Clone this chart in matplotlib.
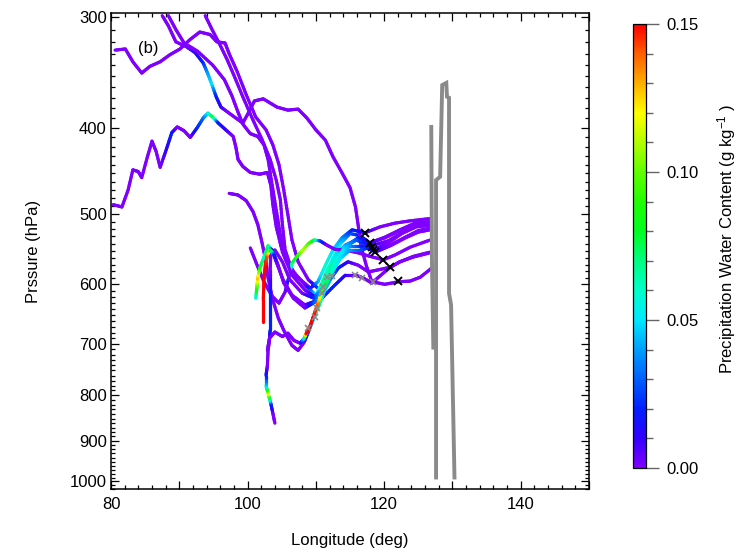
import numpy as np
import matplotlib
matplotlib.use("Agg")
import matplotlib.pyplot as plt
from matplotlib.collections import LineCollection
from matplotlib.colors import LinearSegmentedColormap, Normalize
from matplotlib.cm import ScalarMappable
from matplotlib.ticker import MultipleLocator, FixedLocator, NullFormatter, FuncFormatter

plt.rcParams['font.family'] = ['Liberation Sans', 'DejaVu Sans']
plt.rcParams['mathtext.fontset'] = 'custom'
plt.rcParams['mathtext.rm'] = 'Liberation Sans'
plt.rcParams['mathtext.it'] = 'Liberation Sans:italic'
plt.rcParams['font.size'] = 12

# ---------------- trajectories: longitude (deg), pressure (hPa), PWC (g/kg) ----------------
t1_lon = [80.6, 82.1, 83.2, 84.5, 85.7, 87.2, 88.6, 90.1, 91.6, 93.0, 94.5, 95.5, 96.7, 97.3, 98.5, 99.8,
          101.2, 102.7, 103.7, 104.6, 105.3, 105.9, 106.5, 107.4, 108.9, 110.6, 111.6, 112.5, 113.7,
          115.0, 116.5, 117.9, 120.1, 122.3, 124.5, 126.7]
t1_p = [327, 326, 337, 347, 341, 337, 331, 326, 318, 312, 314, 320, 321, 330, 346, 367,
        389, 402, 418, 440, 470, 501, 535, 566, 593, 609, 586, 561, 539,
        526, 529, 539, 531, 521, 512, 510]
t1_q = [0, 0, 0, 0, 0, 0, 0, 0, 0, 0, 0, 0, 0, 0, 0, 0,
        0, 0, 0, 0, 0, 0, 0, 0, 0, 0.03, 0.05, 0.06, 0.05,
        0.03, 0.02, 0.01, 0, 0, 0, 0]

t2_lon = [87.5, 88.4, 89.5, 91.0, 92.3, 93.5, 94.2, 94.8, 95.4, 96.1, 97.1, 98.3, 99.3, 100.1, 101.0,
          102.3, 104.3, 105.9, 107.4, 108.7, 110.0, 111.4, 112.5, 113.8, 115.0, 115.8, 116.2, 116.6,
          117.4, 118.2, 120.1, 122.1, 123.8, 125.3, 127.0]
t2_p = [299, 307, 320, 324, 329, 338, 348, 358, 369, 379, 384, 390, 395, 385, 373,
        371, 379, 382, 381, 390, 402, 413, 431, 449, 467, 491, 515, 543,
        572, 596, 600, 596, 595, 589, 575]
t2_q = [0, 0, 0, 0, 0.01, 0.02, 0.04, 0.05, 0.02, 0.01, 0, 0, 0, 0, 0,
        0, 0, 0, 0, 0, 0, 0, 0, 0, 0, 0, 0, 0,
        0, 0, 0, 0, 0, 0, 0]

t3_lon = [88.4, 89.5, 90.7, 92.7, 94.9, 96.6, 97.7, 98.6, 99.3, 100.4, 101.5, 102.4, 103.0, 103.6,
          104.2, 104.8, 105.6, 107.1, 109.2, 110.3, 111.4, 112.5, 113.8, 115.3, 117.2, 119.4,
          121.6, 123.8, 126.7]
t3_p = [299, 310, 321, 328, 340, 353, 368, 384, 396, 406, 409, 418, 434, 464,
        495, 528, 561, 587, 606, 596, 571, 549, 532, 521, 525, 517,
        512, 509, 506]
t3_q = [0, 0, 0, 0, 0, 0, 0, 0, 0, 0, 0, 0, 0, 0,
        0, 0, 0, 0, 0, 0.04, 0.06, 0.05, 0.04, 0.02, 0.01, 0,
        0, 0, 0]

t4_lon = [93.8, 94.8, 96.0, 97.0, 98.0, 99.3, 100.8, 102.1, 103.3, 104.2, 104.8, 105.1, 105.5,
          106.5, 108.4, 110.0, 110.9, 111.8, 113.0, 114.3, 115.9, 117.2, 118.4, 120.6, 122.6,
          124.7, 126.7]
t4_p = [299, 310, 323, 335, 349, 369, 392, 412, 434, 458, 482, 514, 549,
        578, 601, 617, 598, 575, 556, 542, 535, 536, 549, 539, 526,
        517, 515]
t4_q = [0, 0, 0, 0, 0, 0, 0, 0, 0, 0, 0, 0, 0,
        0, 0, 0.05, 0.07, 0.06, 0.05, 0.04, 0.03, 0.02, 0.01, 0, 0,
        0, 0]

t5_lon = [102.9, 103.2, 104.0, 105.1, 105.9, 106.8, 107.7, 108.3, 108.6, 109.2, 109.7, 110.3, 110.9,
          111.5, 112.4, 113.6, 115.0, 116.5, 117.7, 118.7, 120.9, 123.1, 125.0, 126.7]
t5_p = [712, 690, 679, 687, 681, 694, 699, 690, 681, 667, 650, 630, 612,
        598, 581, 561, 549, 549, 546, 552, 543, 532, 524, 521]
t5_q = [0, 0, 0, 0, 0, 0, 0, 0.05, 0.15, 0.15, 0.15, 0.14, 0.10,
        0.08, 0.06, 0.05, 0.04, 0.03, 0.02, 0.01, 0, 0, 0, 0]

t6_lon = [100.4, 101.4, 102.4, 103.6, 104.6, 105.5, 106.1, 106.5, 107.4, 108.1, 108.9, 109.7, 110.6,
          111.6, 112.8, 114.3, 116.2, 117.9, 119.9, 121.6, 123.8, 126.7]
t6_p = [546, 571, 596, 619, 630, 612, 586, 568, 556, 549, 540, 535, 536,
        542, 548, 549, 553, 558, 563, 556, 545, 535]
t6_q = [0, 0, 0, 0, 0, 0, 0.03, 0.07, 0.09, 0.11, 0.10, 0.08, 0.03,
        0, 0, 0, 0, 0, 0, 0, 0, 0]

t7_lon = [80.3, 81.6, 82.5, 83.2, 84.0, 84.5, 85.3, 86.0, 86.6, 87.2, 88.1, 88.9, 89.7, 90.7, 91.6,
          92.6, 93.5, 94.2, 94.9, 95.7, 96.8, 97.9, 98.3, 98.6, 99.3, 100.4, 101.8, 102.9, 103.4,
          103.7, 104.2, 105.1, 106.5, 108.4, 110.6, 112.8, 114.3, 115.8, 116.9, 118.2, 119.4,
          120.9, 122.3, 124.3, 126.7]
t7_p = [488, 491, 470, 446, 448, 455, 432, 414, 425, 443, 423, 405, 399, 403, 410,
        400, 390, 385, 389, 395, 402, 409, 421, 434, 442, 449, 451, 449, 464,
        488, 517, 552, 586, 609, 625, 601, 586, 586, 590, 598, 587,
        574, 566, 559, 553]
t7_q = [0, 0, 0, 0, 0, 0, 0, 0, 0, 0, 0.01, 0.02, 0, 0, 0,
        0.02, 0.03, 0.05, 0.08, 0.02, 0.01, 0, 0, 0, 0, 0, 0, 0, 0,
        0, 0, 0, 0, 0, 0.02, 0.02, 0.01, 0, 0, 0, 0,
        0, 0, 0, 0]

t8_lon = [97.3, 98.6, 99.8, 100.8, 101.5, 102.1, 102.6, 103.0, 103.7, 104.5, 105.3, 106.5, 107.4,
          108.3, 109.0, 109.7, 110.5, 111.2, 112.1, 113.3, 114.7, 116.2, 117.7, 119.1, 120.9,
          122.3, 124.3, 126.7]
t8_p = [474, 476, 483, 497, 514, 538, 561, 590, 625, 655, 676, 703, 712,
        697, 676, 655, 633, 612, 593, 575, 566, 571, 581, 578, 574,
        566, 558, 552]
t8_q = [0, 0, 0, 0, 0, 0, 0, 0, 0, 0, 0, 0, 0,
        0, 0.03, 0.05, 0.07, 0.05, 0.04, 0.02, 0.01, 0, 0, 0, 0,
        0, 0, 0]

t9_lon = [101.2, 101.4, 101.5, 101.8, 102.4, 103.0, 103.6, 104.2, 105.2, 106.5, 108.4, 110.3,
          111.8, 113.1, 114.6, 116.2, 117.8, 120.1, 122.3, 124.5, 126.7]
t9_p = [622, 601, 590, 575, 559, 543, 549, 566, 593, 617, 633, 625,
        593, 563, 542, 532, 539, 532, 522, 514, 511]
t9_q = [0.05, 0.10, 0.13, 0.09, 0.06, 0.08, 0.02, 0, 0, 0, 0, 0.03,
        0.05, 0.06, 0.04, 0.02, 0.01, 0, 0, 0, 0]

t10_lon = [102.3, 102.3, 102.4, 102.6, 102.9, 103.3, 103.9, 104.5, 105.3, 106.7, 108.4, 109.9,
           111.4, 112.7, 114.1, 115.9, 118.1, 120.6, 122.6, 124.7, 126.7]
t10_p = [662, 625, 593, 571, 556, 549, 556, 572, 598, 622, 638, 628,
         601, 571, 546, 535, 543, 536, 525, 516, 514]
t10_q = [0.15, 0.15, 0.15, 0.15, 0.14, 0.10, 0.02, 0, 0, 0, 0, 0.03,
         0.05, 0.06, 0.05, 0.03, 0.01, 0, 0, 0, 0]

t11_lon = [104.0, 103.7, 103.4, 103.0, 102.7, 102.7, 102.9, 103.0, 103.2, 103.3, 103.3, 103.3,
           103.3, 103.4, 104.0, 105.1, 106.2, 108.0, 109.7, 111.1, 112.2, 113.6, 115.0, 116.8,
           118.5, 120.9, 123.1, 125.0, 126.7]
t11_p = [860, 838, 817, 796, 780, 760, 741, 712, 694, 676, 642, 609,
         578, 556, 549, 566, 593, 614, 622, 604, 575, 555, 543, 543,
         550, 542, 531, 522, 519]
t11_q = [0, 0, 0.02, 0.12, 0.05, 0.02, 0, 0, 0, 0.02, 0.02, 0.02,
         0, 0, 0, 0, 0, 0, 0.02, 0.05, 0.07, 0.06, 0.04, 0.02,
         0.01, 0, 0, 0, 0]

# gray reference track
track_lon = [[126.9, 127.0, 127.2],
             [127.6, 127.6, 128.2, 128.5, 129.1, 129.2, 129.5, 129.5, 129.8, 130.3]]
track_p = [[399, 563, 707],
           [990, 458, 454, 358, 356, 369, 370, 614, 633, 990]]

# time markers along the trajectories
black_x_lon = [117.2, 117.9, 118.2, 118.4, 118.7, 119.9, 120.9, 122.1]
black_x_p = [525, 539, 545, 549, 552, 563, 574, 595]
gray_x_lon = [115.8, 116.8, 118.4, 112.4, 111.6, 111.1, 110.9, 110.2, 109.9, 108.9]
gray_x_p = [586, 590, 596, 587, 589, 604, 614, 638, 653, 672]

# drawing order: the moist (red) branch goes last so it stays on top
trajectories = [
    (t1_lon, t1_p, t1_q), (t2_lon, t2_p, t2_q), (t3_lon, t3_p, t3_q), (t4_lon, t4_p, t4_q),
    (t6_lon, t6_p, t6_q), (t7_lon, t7_p, t7_q), (t8_lon, t8_p, t8_q), (t11_lon, t11_p, t11_q),
    (t9_lon, t9_p, t9_q), (t10_lon, t10_p, t10_q), (t5_lon, t5_p, t5_q),
]

pwc_ticks = [0.00, 0.05, 0.10, 0.15]
pres_ticks = [300, 400, 500, 600, 700, 800, 900, 1000]
lon_ticks = [80, 100, 120, 140]

# colour table: violet -> blue -> cyan -> green -> yellow -> red
cmap = LinearSegmentedColormap.from_list('pwc', [
    (0.000, '#8000ff'), (0.067, '#3000ff'), (0.133, '#0020ff'), (0.200, '#0060ff'),
    (0.267, '#00a0ff'), (0.333, '#00e8ff'), (0.400, '#00ffc8'), (0.467, '#00ff80'),
    (0.533, '#00ff20'), (0.600, '#20ff00'), (0.667, '#60ff00'), (0.733, '#b0ff00'),
    (0.800, '#ffff00'), (0.867, '#ffb000'), (0.933, '#ff6000'), (1.000, '#ff0000')])
norm = Normalize(0.0, 0.15)

fig = plt.figure(figsize=(7.49, 5.52), dpi=100)
ax = fig.add_axes([0.1482, 0.1141, 0.6382, 0.8623])


def colored_path(lon, p, q, nsub=8):
    """Split each leg into short pieces so the colour blends along the line."""
    lon = np.asarray(lon, float)
    lp = np.log10(np.asarray(p, float))
    q = np.asarray(q, float)
    segs, vals = [], []
    for i in range(len(lon) - 1):
        f = np.linspace(0, 1, nsub + 1)
        xs = lon[i] + (lon[i + 1] - lon[i]) * f
        ys = 10 ** (lp[i] + (lp[i + 1] - lp[i]) * f)
        qs = q[i] + (q[i + 1] - q[i]) * f
        for k in range(nsub):
            segs.append([(xs[k], ys[k]), (xs[k + 1], ys[k + 1])])
            vals.append(0.5 * (qs[k] + qs[k + 1]))
    return segs, np.array(vals)


for lon, p, q in trajectories:
    segs, vals = colored_path(lon, p, q)
    lc = LineCollection(segs, cmap=cmap, norm=norm, linewidths=2.3,
                        capstyle='round', joinstyle='round', zorder=2)
    lc.set_array(vals)
    ax.add_collection(lc)

for lon, p in zip(track_lon, track_p):
    ax.plot(lon, p, color='#8a8a8a', lw=2.8, solid_joinstyle='miter', zorder=3)

ax.plot(gray_x_lon, gray_x_p, ls='none', marker='x', ms=5, mew=1.2, color='#8a8a8a', zorder=4)
ax.plot(black_x_lon, black_x_p, ls='none', marker='x', ms=5.5, mew=1.4, color='black', zorder=5)

ax.set_yscale('log')
ax.set_xlim(80, 150)
ax.set_ylim(1020, 297)

ax.yaxis.set_major_locator(FixedLocator(pres_ticks))
ax.yaxis.set_major_formatter(FuncFormatter(lambda v, pos: f"{int(round(v))}"))
ax.yaxis.set_minor_locator(FixedLocator([v for v in range(300, 1021, 10) if v % 100]))
ax.yaxis.set_minor_formatter(NullFormatter())

ax.xaxis.set_major_locator(MultipleLocator(10))
ax.xaxis.set_major_formatter(FuncFormatter(lambda v, pos: f"{int(round(v))}" if int(round(v)) in lon_ticks else ""))
ax.xaxis.set_minor_locator(MultipleLocator(2))

ax.tick_params(which='both', direction='in', top=True, right=True, width=0.9, labelsize=12)
ax.tick_params(which='major', length=5.5)
ax.tick_params(which='minor', length=3)
ax.tick_params(axis='x', pad=6)
ax.tick_params(axis='y', pad=3)
for s in ax.spines.values():
    s.set_linewidth(1.1)

ax.set_xlabel('Longitude (deg)', fontsize=12)
ax.set_ylabel('Prssure (hPa)', fontsize=12)
ax.xaxis.set_label_coords(0.5, -0.092)
ax.yaxis.set_label_coords(-0.147, 0.5)

ax.text(84.0, 326, '(b)', fontsize=12, ha='left', va='center')

cax = fig.add_axes([0.8451, 0.1522, 0.01736, 0.8043])
cb = fig.colorbar(ScalarMappable(norm=norm, cmap=cmap), cax=cax)
cb.set_ticks(pwc_ticks)
cb.ax.yaxis.set_major_formatter(FuncFormatter(lambda v, pos: f"{v:.2f}"))
cb.ax.yaxis.set_minor_locator(MultipleLocator(0.01))
cb.ax.tick_params(which='major', length=9.5, width=1.0, color='#666666', labelsize=12, pad=5)
cb.ax.tick_params(which='minor', length=5, width=1.0, color='#666666')
cb.outline.set_linewidth(0.9)
cb.set_label(r'Precipitation Water Content (g kg$^{-1}$ )', fontsize=12, labelpad=12)
cb.ax.yaxis.label.set_y(0.515)

fig.savefig('out.png', dpi=100)
